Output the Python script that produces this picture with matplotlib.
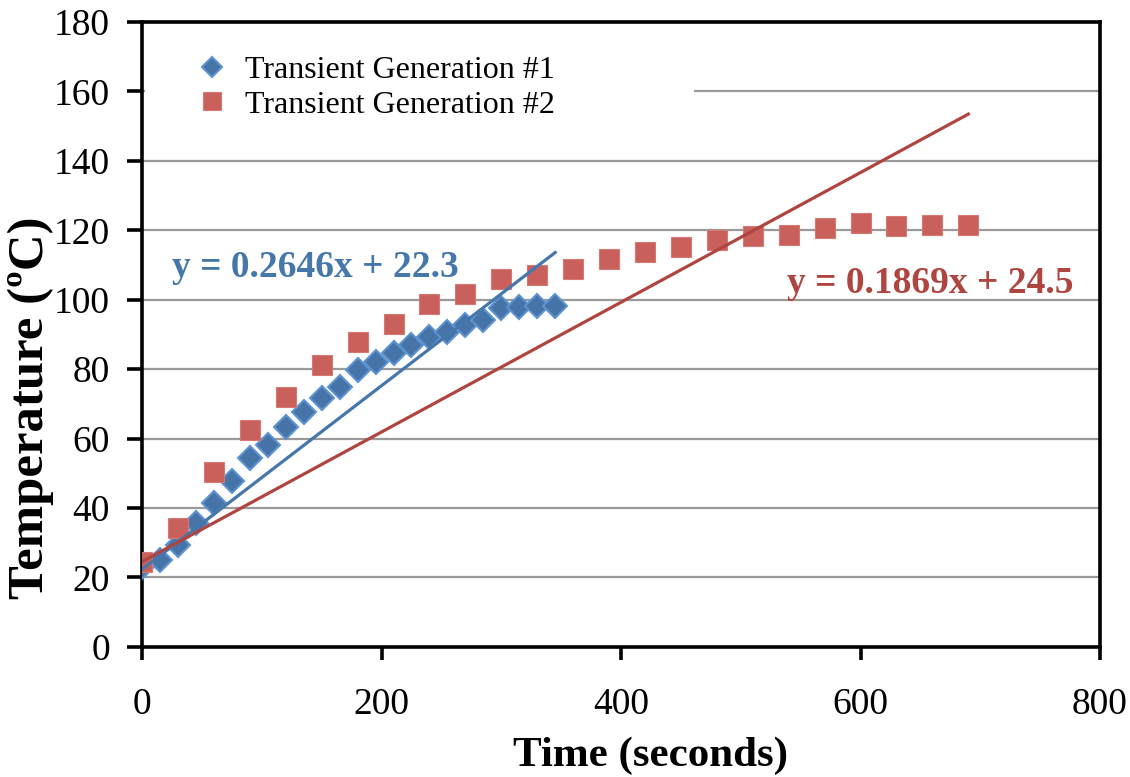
import matplotlib.pyplot as plt
import numpy as np
from matplotlib.patches import Rectangle

plt.rcParams['font.family'] = ['Liberation Serif', 'DejaVu Serif']

# Transient Generation #1 (every 15 s)
time_1 = list(range(0, 346, 15))
temp_1 = [23.0, 25.0, 29.3, 35.6, 41.4, 47.9, 54.3, 58.1, 63.3, 67.6, 71.6, 74.8,
          79.7, 82.0, 84.5, 86.8, 89.2, 90.6, 92.7, 94.0, 97.5, 97.8, 98.1, 98.1]

# Transient Generation #2 (every 30 s)
time_2 = list(range(0, 691, 30))
temp_2 = [24.5, 34.2, 50.4, 62.4, 72.0, 81.1, 87.8, 93.1, 98.8, 101.7, 106.0, 107.0,
          108.9, 111.8, 113.7, 115.1, 117.3, 118.3, 118.7, 120.6, 122.0, 121.2, 121.6, 121.4]

# linear trendlines as shown on the chart
fit_1 = (0.2646, 22.3)
fit_2 = (0.1869, 24.5)

blue = '#4674A9'
blue_edge = '#5C93CF'
red = '#CA605B'
blue_line = '#4677AB'
red_line = '#AF4540'

fig = plt.figure(figsize=(11.3, 7.77), dpi=100)
ax = fig.add_axes([0.1257, 0.1676, 0.8478, 0.8041])

ax.plot(time_1, temp_1, linestyle='none', marker='D', markersize=12.5,
        markerfacecolor=blue, markeredgecolor=blue_edge, markeredgewidth=1.5,
        label='Transient Generation #1', zorder=3)
ax.plot(time_2, temp_2, linestyle='none', marker='s', markersize=14.5,
        markerfacecolor=red, markeredgecolor='#D47A75', markeredgewidth=0.8,
        label='Transient Generation #2', zorder=3)

x1 = np.array([time_1[0], time_1[-1]])
x2 = np.array([time_2[0], time_2[-1]])
ax.plot(x1, fit_1[0] * x1 + fit_1[1], color=blue_line, linewidth=2.3, zorder=4)
ax.plot(x2, fit_2[0] * x2 + fit_2[1], color=red_line, linewidth=2.3, zorder=4)

ax.text(145, 109.3, 'y = 0.2646x + 22.3', color=blue_line, fontsize=27,
        fontweight='bold', ha='center', va='center', zorder=5)
ax.text(658, 104.7, 'y = 0.1869x + 24.5', color=red_line, fontsize=27,
        fontweight='bold', ha='center', va='center', zorder=5)

ax.set_xlim(0, 800)
ax.set_ylim(0, 180)
ax.set_xticks(range(0, 801, 200))
ax.set_yticks(range(0, 181, 20))

ax.yaxis.grid(True, color='#9a9a9a', linewidth=1.6)
ax.set_axisbelow(True)
for s in ax.spines.values():
    s.set_linewidth(2.6)
    s.set_color('black')

ax.tick_params(axis='both', direction='out', width=2.6, labelsize=27)
ax.tick_params(axis='x', length=9, pad=20)
ax.tick_params(axis='y', length=11, pad=12)

ax.set_xlabel('Time (seconds)', fontsize=31, fontweight='bold', labelpad=11, x=0.531)
ax.set_ylabel('Temperature (ºC)', fontsize=36.5, fontweight='bold', labelpad=0, y=0.382)

# white legend area hiding the gridline behind it
ax.add_patch(Rectangle((0.003, 0.83), 0.573, 0.16, transform=ax.transAxes,
                       facecolor='white', edgecolor='none', zorder=1))

leg = ax.legend(loc='upper left', bbox_to_anchor=(0.053, 0.946),
                frameon=False, fontsize=23, handletextpad=0.42,
                handlelength=1.2, labelspacing=0.16, borderaxespad=0,
                borderpad=0, markerscale=0.85)

fig.savefig('out.png', dpi=100)
